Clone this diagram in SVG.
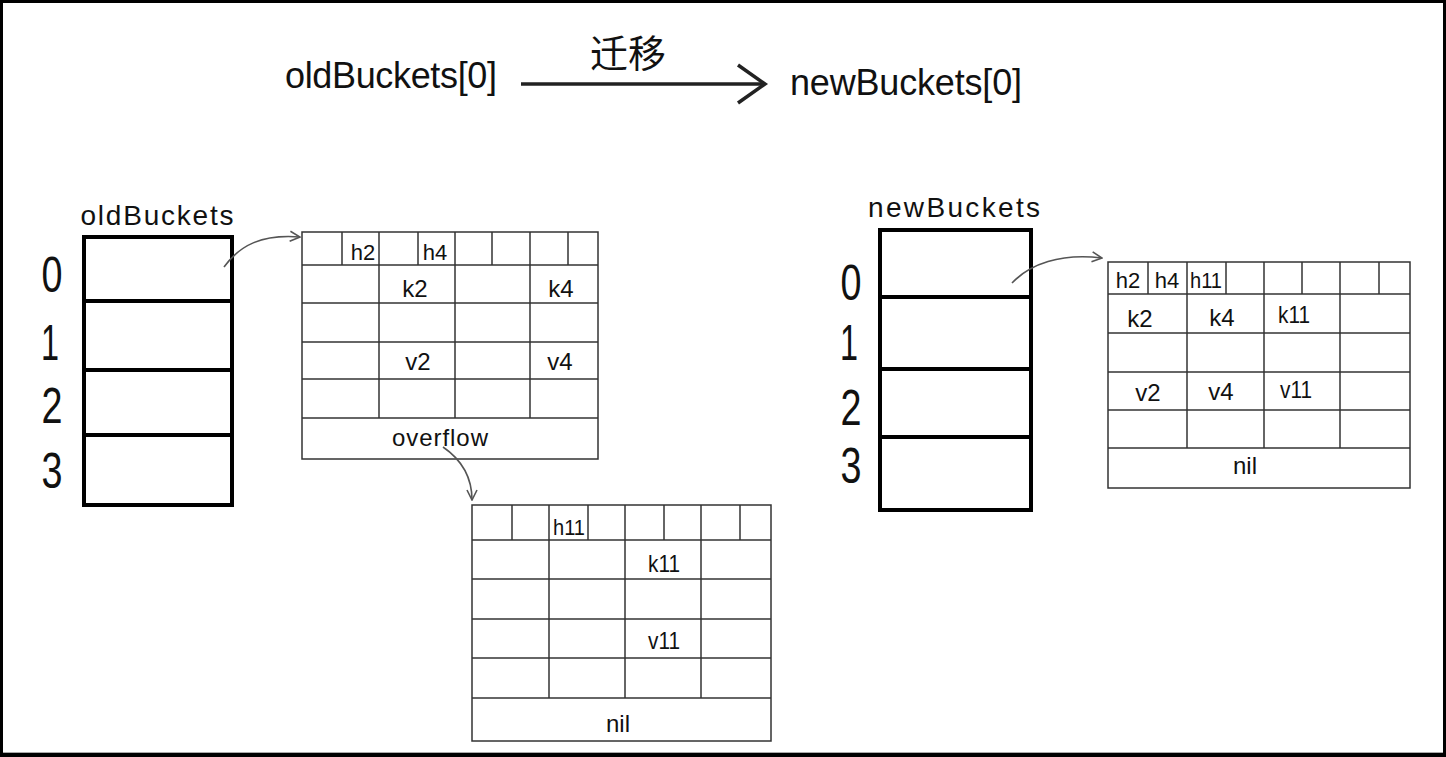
<svg xmlns="http://www.w3.org/2000/svg" width="1446" height="757" viewBox="0 0 1446 757">
<style>
.t{font-family:"Liberation Sans","DejaVu Sans",sans-serif;fill:#111;text-anchor:middle}
.title{font-size:36px}
.lbl{font-size:28px}
.dig{font-size:50px}
.cell{font-size:24px}
.hd{font-size:22px}
.bk{fill:none;stroke:#000;stroke-width:4}
.bkl{stroke:#000;stroke-width:4}
.tb{fill:#fff;stroke:#333;stroke-width:1.5}
.tl{stroke:#333;stroke-width:1.5}
.con{fill:none;stroke:#555;stroke-width:1.6}
</style>
<defs>
<marker id="ah" markerUnits="userSpaceOnUse" markerWidth="12" markerHeight="12" refX="10" refY="5" orient="auto" viewBox="-1 -1 12 12">
<path d="M0,0 L10,5 L0,10" fill="none" stroke="#555" stroke-width="1.6"/>
</marker>
</defs>
<rect x="0" y="0" width="1446" height="757" fill="#000"/>
<rect x="3" y="3" width="1440" height="750" fill="#fff"/>
<line x1="3" y1="752.5" x2="1443" y2="752.5" stroke="#aaa" stroke-width="1"/>

<g id="title">
<text class="t title" x="391" y="88" textLength="212" lengthAdjust="spacing">oldBuckets[0]</text>
<text class="t title" x="906" y="95" textLength="232" lengthAdjust="spacing">newBuckets[0]</text>
<text x="628" y="67" font-family="'Noto Sans CJK SC',sans-serif" font-size="38" text-anchor="middle" fill="#111">迁移</text>
</g>

<g id="oldBuckets">
<text class="t lbl" x="157" y="225" textLength="153" lengthAdjust="spacing">oldBuckets</text>
<rect class="bk" x="84" y="237" width="148" height="268"/>
<line class="bkl" x1="84" y1="301" x2="232" y2="301"/>
<line class="bkl" x1="84" y1="370" x2="232" y2="370"/>
<line class="bkl" x1="84" y1="435" x2="232" y2="435"/>
<text class="t dig" x="52" y="292" textLength="21" lengthAdjust="spacingAndGlyphs">0</text>
<text class="t dig" x="50" y="360" textLength="18" lengthAdjust="spacingAndGlyphs">1</text>
<text class="t dig" x="52" y="423" textLength="21" lengthAdjust="spacingAndGlyphs">2</text>
<text class="t dig" x="52" y="488" textLength="21" lengthAdjust="spacingAndGlyphs">3</text>
</g>

<g id="newBuckets">
<text class="t lbl" x="954" y="217" textLength="172" lengthAdjust="spacing">newBuckets</text>
<rect class="bk" x="880" y="230" width="151" height="280"/>
<line class="bkl" x1="880" y1="297" x2="1031" y2="297"/>
<line class="bkl" x1="880" y1="369" x2="1031" y2="369"/>
<line class="bkl" x1="880" y1="437" x2="1031" y2="437"/>
<text class="t dig" x="851" y="300" textLength="21" lengthAdjust="spacingAndGlyphs">0</text>
<text class="t dig" x="849" y="360" textLength="18" lengthAdjust="spacingAndGlyphs">1</text>
<text class="t dig" x="851" y="425" textLength="21" lengthAdjust="spacingAndGlyphs">2</text>
<text class="t dig" x="851" y="483" textLength="21" lengthAdjust="spacingAndGlyphs">3</text>
</g>

<g id="oldBucket0">
<rect class="tb" x="302" y="232" width="296" height="227"/>
<line class="tl" x1="302" y1="265" x2="598" y2="265"/>
<line class="tl" x1="302" y1="303" x2="598" y2="303"/>
<line class="tl" x1="302" y1="342" x2="598" y2="342"/>
<line class="tl" x1="302" y1="379" x2="598" y2="379"/>
<line class="tl" x1="302" y1="418" x2="598" y2="418"/>
<line class="tl" x1="379" y1="232" x2="379" y2="418"/>
<line class="tl" x1="455" y1="232" x2="455" y2="418"/>
<line class="tl" x1="530" y1="232" x2="530" y2="418"/>
<line class="tl" x1="342" y1="232" x2="342" y2="265"/>
<line class="tl" x1="418" y1="232" x2="418" y2="265"/>
<line class="tl" x1="492" y1="232" x2="492" y2="265"/>
<line class="tl" x1="568" y1="232" x2="568" y2="265"/>
<text class="t hd" x="363" y="260">h2</text>
<text class="t hd" x="435" y="260">h4</text>
<text class="t cell" x="415" y="297">k2</text>
<text class="t cell" x="561" y="297">k4</text>
<text class="t cell" x="418" y="370">v2</text>
<text class="t cell" x="560" y="370">v4</text>
<text class="t cell" x="440" y="446" textLength="96" lengthAdjust="spacing">overflow</text>
</g>

<g id="overflowBucket">
<rect class="tb" x="472" y="505" width="299" height="236"/>
<line class="tl" x1="472" y1="540" x2="771" y2="540"/>
<line class="tl" x1="472" y1="579" x2="771" y2="579"/>
<line class="tl" x1="472" y1="619" x2="771" y2="619"/>
<line class="tl" x1="472" y1="658" x2="771" y2="658"/>
<line class="tl" x1="472" y1="698" x2="771" y2="698"/>
<line class="tl" x1="549" y1="505" x2="549" y2="698"/>
<line class="tl" x1="625" y1="505" x2="625" y2="698"/>
<line class="tl" x1="701" y1="505" x2="701" y2="698"/>
<line class="tl" x1="512" y1="505" x2="512" y2="540"/>
<line class="tl" x1="588" y1="505" x2="588" y2="540"/>
<line class="tl" x1="664" y1="505" x2="664" y2="540"/>
<line class="tl" x1="740" y1="505" x2="740" y2="540"/>
<text class="t hd" x="569" y="535" textLength="32" lengthAdjust="spacingAndGlyphs">h11</text>
<text class="t cell" x="664" y="572" textLength="32" lengthAdjust="spacingAndGlyphs">k11</text>
<text class="t cell" x="664" y="649" textLength="32" lengthAdjust="spacingAndGlyphs">v11</text>
<text class="t cell" x="618" y="732">nil</text>
</g>

<g id="newBucket0">
<rect class="tb" x="1108" y="262" width="302" height="226"/>
<line class="tl" x1="1108" y1="294" x2="1410" y2="294"/>
<line class="tl" x1="1108" y1="333" x2="1410" y2="333"/>
<line class="tl" x1="1108" y1="372" x2="1410" y2="372"/>
<line class="tl" x1="1108" y1="410" x2="1410" y2="410"/>
<line class="tl" x1="1108" y1="448" x2="1410" y2="448"/>
<line class="tl" x1="1187" y1="262" x2="1187" y2="448"/>
<line class="tl" x1="1264" y1="262" x2="1264" y2="448"/>
<line class="tl" x1="1340" y1="262" x2="1340" y2="448"/>
<line class="tl" x1="1148" y1="262" x2="1148" y2="294"/>
<line class="tl" x1="1226" y1="262" x2="1226" y2="294"/>
<line class="tl" x1="1302" y1="262" x2="1302" y2="294"/>
<line class="tl" x1="1379" y1="262" x2="1379" y2="294"/>
<text class="t hd" x="1128" y="288">h2</text>
<text class="t hd" x="1167" y="288">h4</text>
<text class="t hd" x="1206" y="288" textLength="32" lengthAdjust="spacingAndGlyphs">h11</text>
<text class="t cell" x="1140" y="327">k2</text>
<text class="t cell" x="1222" y="326">k4</text>
<text class="t cell" x="1294" y="323" textLength="32" lengthAdjust="spacingAndGlyphs">k11</text>
<text class="t cell" x="1148" y="401">v2</text>
<text class="t cell" x="1221" y="400">v4</text>
<text class="t cell" x="1296" y="398" textLength="32" lengthAdjust="spacingAndGlyphs">v11</text>
<text class="t cell" x="1245" y="474">nil</text>
</g>

<g id="connectors">
<line x1="521" y1="84" x2="763" y2="84" stroke="#222" stroke-width="3.5"/>
<path d="M738,65 L765,84 L738,103" fill="none" stroke="#222" stroke-width="3.5" stroke-linejoin="miter"/>
<path class="con" d="M224,267 C240,245 262,234 300,237" marker-end="url(#ah)"/>
<path class="con" d="M443,447 C462,460 472,478 472,500" marker-end="url(#ah)"/>
<path class="con" d="M1012,283 C1030,264 1060,253 1102,258" marker-end="url(#ah)"/>
</g>
</svg>
